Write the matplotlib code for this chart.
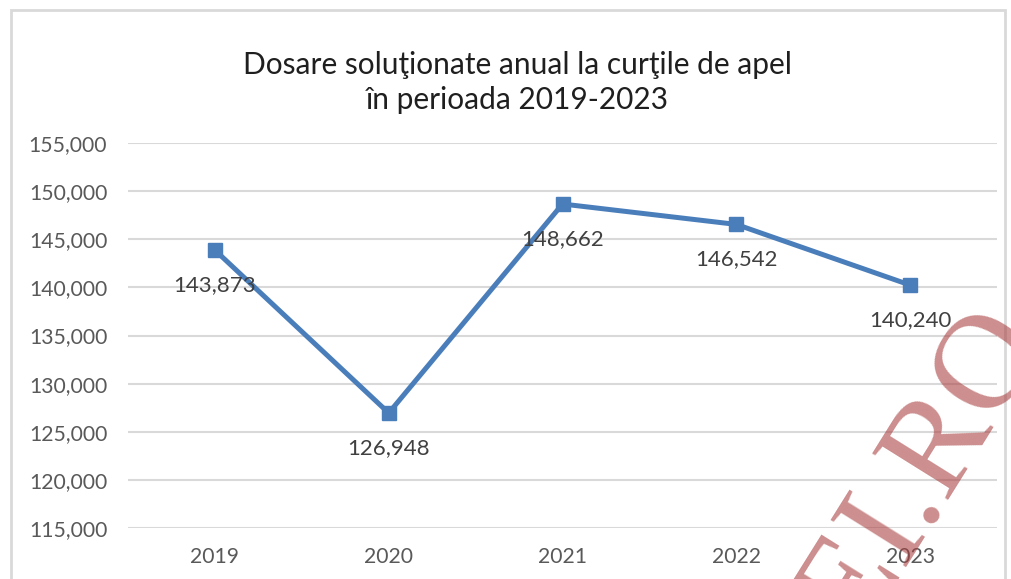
import matplotlib.pyplot as plt
from matplotlib.patches import Rectangle
from matplotlib.ticker import FuncFormatter

years = ["2019", "2020", "2021", "2022", "2023"]
cases = [143873, 126948, 148662, 146542, 140240]
title = "Dosare soluţionate anual la curţile de apel\nîn perioada 2019-2023"

plt.rcParams["font.family"] = ["Lato", "DejaVu Sans"]

fig = plt.figure(figsize=(10.11, 5.79), dpi=100)
ax = fig.add_axes([0.1266, 0.0881, 0.8596, 0.6649])

x = range(len(years))
ax.plot(x, cases, color="#4A7EBB", lw=3.6, marker="s", ms=10, zorder=3)
for xi, v in zip(x, cases):
    ax.annotate(f"{v:,}", (xi, v), xytext=(0, -35), textcoords="offset pixels",
                ha="center", va="center", fontsize=16, color="#404040", zorder=4)

ax.set_xlim(-0.5, len(years) - 0.5)
ax.set_ylim(115000, 155000)
ax.set_yticks(range(115000, 155001, 5000))
ax.yaxis.set_major_formatter(FuncFormatter(lambda v, p: f"{int(v):,}"))
ax.set_xticks(list(x))
ax.set_xticklabels(years)
ax.tick_params(length=0, labelsize=15.2, labelcolor="#595959")
ax.tick_params(axis="x", pad=14)
ax.tick_params(axis="y", pad=15)
ax.grid(axis="y", color="#D9D9D9", lw=1.5)
ax.set_axisbelow(True)
for s in ax.spines.values():
    s.set_visible(False)

fig.text(0.512, 0.858, title, ha="center", va="center", fontsize=21.5,
         color="#1F1F1F", linespacing=1.3)

# chart frame
fig.patches.append(Rectangle((0.011, -0.05), 0.983, 1.032, transform=fig.transFigure,
                             fill=False, edgecolor="#D9D9D9", lw=2))

# watermark
fig.text(1045 / 1011, 1 - 340 / 579, "LUMEAJUSTITIEI.RO", rotation=58,
         rotation_mode="anchor", ha="right", va="baseline", fontsize=98,
         family="Liberation Serif", color="#A83C3C", alpha=0.58, zorder=10)

fig.savefig("out.png", dpi=100)
